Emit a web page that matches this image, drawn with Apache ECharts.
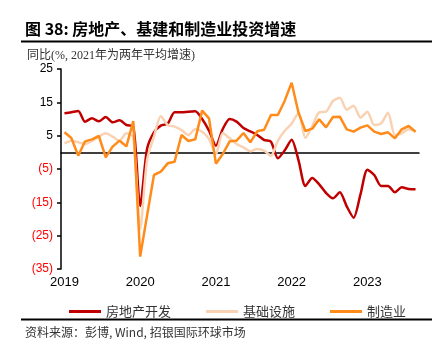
<!DOCTYPE html>
<html>
<head>
<meta charset="utf-8">
<script src="https://cdn.jsdelivr.net/npm/echarts@6/dist/echarts.min.js"></script>
<style>
  html, body { margin: 0; padding: 0; background: #fff; }
  #main { width: 437px; height: 354px; }
</style>
</head>
<body>
<div id="main"></div>
<script>
  // 月度数据: 每年 1-2 月合并, 共 11 个点; 2023 年到 9 月
  var categories = [
    '2019-02','2019-03','2019-04','2019-05','2019-06','2019-07','2019-08','2019-09','2019-10','2019-11','2019-12',
    '2020-02','2020-03','2020-04','2020-05','2020-06','2020-07','2020-08','2020-09','2020-10','2020-11','2020-12',
    '2021-02','2021-03','2021-04','2021-05','2021-06','2021-07','2021-08','2021-09','2021-10','2021-11','2021-12',
    '2022-02','2022-03','2022-04','2022-05','2022-06','2022-07','2022-08','2022-09','2022-10','2022-11','2022-12',
    '2023-02','2023-03','2023-04','2023-05','2023-06','2023-07','2023-08','2023-09'
  ]
  var realEstate = [
    11.7, 12.0, 12.4, 9.2, 10.2, 9.3, 10.6, 9.0, 9.6, 8.2, 7.8,
    -16.1, 1.0, 6.0, 8.0, 8.6, 12.0, 12.0, 12.2, 12.3, 10.0, 6.5,
    2.0, 7.0, 10.0, 9.2, 7.3, 6.3, 5.2, 3.7, 3.2, -1.8, 0.6,
    3.8, -2.4, -10.1, -7.7, -9.6, -12.2, -13.8, -12.0, -16.2, -19.6, -12.6,
    -5.2, -6.8, -10.1, -10.1, -12.0, -10.5, -11.0, -11.1
  ]
  var infrastructure = [
    2.7, 3.5, 3.0, 2.5, 3.4, 4.7, 5.7, 4.7, 3.5, 5.7, 4.5,
    -23.0, -2.3, 4.7, 10.8, 8.2, 7.7, 6.7, 5.2, 6.9, 6.2, 4.0,
    -0.5, 5.8, 4.2, 2.5, 1.5, 0.3, 1.0, 0.5, -1.0, 3.5, 6.5,
    8.6, 11.8, 4.3, 7.9, 12.0, 12.2, 15.4, 16.4, 12.8, 14.0, 10.4,
    12.2, 8.2, 8.7, 11.9, 5.2, 5.7, 6.9, 6.2
  ]
  var manufacturing = [
    6.0, 4.3, -1.0, 3.3, 3.9, 4.9, -1.5, 1.7, 3.5, 1.8, 9.4,
    -31.3, -19.0, -6.8, -5.8, -3.3, -2.8, 5.2, 3.4, 3.9, 12.5, 10.2,
    -3.4, -0.5, 3.3, 3.5, 5.8, 3.0, 6.3, 6.8, 11.2, 11.2, 15.5,
    20.9, 11.9, 6.4, 7.1, 9.9, 7.5, 10.6, 10.7, 6.9, 6.2, 7.4,
    8.1, 6.2, 5.5, 6.0, 4.2, 6.9, 7.9, 6.2
  ]
  var yTicks = [-35, -25, -15, -5, 5, 15, 25]

  var cjk = '"Noto Sans CJK SC", sans-serif'
  var latin = '"Liberation Sans", Arial, sans-serif'

  var chart = echarts.init(document.getElementById('main'))
  var option = {
    animation: false,
    grid: { left: 61, right: 18, top: 69, bottom: 85, containLabel: false },
    graphic: [
      { type: 'text', left: 25, top: 21, style: { text: '图 38: 房地产、基建和制造业投资增速', font: 'bold 16px ' + cjk, fill: '#000' } },
      { type: 'rect', shape: { x: 21, y: 40.5, width: 411, height: 2 }, style: { fill: '#000' } },
      { type: 'text', left: 27, top: 50, style: { text: '同比(%, 2021年为两年平均增速)', font: '12px "Liberation Serif", "Noto Sans CJK SC", serif', fill: '#333' } },
      { type: 'rect', shape: { x: 21, y: 318.5, width: 411, height: 2 }, style: { fill: '#000' } },
      { type: 'text', left: 25, top: 326, style: { text: '资料来源：彭博, Wind, 招银国际环球市场', font: '12px ' + cjk, fill: '#333' } }
    ],
    legend: {
      left: 64,
      top: 300,
      itemGap: 35,
      itemWidth: 32,
      itemHeight: 3,
      icon: 'rect',
      textStyle: { fontSize: 13, color: '#333', fontFamily: cjk },
      data: ['房地产开发', '基础设施', '制造业']
    },
    xAxis: [
      {
        type: 'category',
        data: categories,
        position: 'bottom',
        boundaryGap: true,
        axisLine: { show: false, onZero: false },
        axisTick: { show: false },
        axisLabel: {
          interval: 10,
          margin: 7,
          fontSize: 13,
          color: '#000',
          fontFamily: latin,
          formatter: function (v) { return v.slice(0, 4) }
        }
      },
      {
        type: 'category',
        data: categories,
        position: 'bottom',
        boundaryGap: true,
        axisLine: { onZero: true, lineStyle: { color: '#000', width: 1.5 } },
        axisTick: { interval: 10, length: 3, lineStyle: { color: '#000', width: 1.5 } },
        axisLabel: { show: false }
      }
    ],
    yAxis: {
      type: 'value',
      min: -35,
      max: 25,
      splitLine: { show: false },
      axisLine: { show: true, lineStyle: { color: '#000', width: 1.5 } },
      axisTick: { show: true, length: 4, customValues: yTicks, lineStyle: { color: '#000', width: 1.5 } },
      axisLabel: {
        customValues: yTicks,
        margin: 8,
        fontSize: 12,
        fontFamily: latin,
        color: '#000',
        formatter: function (v) {
          return v < 0 ? '{neg|(' + (-v) + ')}' : String(v)
        },
        rich: { neg: { color: '#FF0000', fontSize: 12, fontFamily: latin } }
      }
    },
    series: [
      {
        name: '房地产开发',
        type: 'line',
        data: realEstate,
        showSymbol: false,
        smooth: 0.25,
        color: '#C00000',
        lineStyle: { width: 2.5, color: '#C00000' }
      },
      {
        name: '基础设施',
        type: 'line',
        data: infrastructure,
        showSymbol: false,
        smooth: 0.25,
        color: '#F9D2B3',
        lineStyle: { width: 2.5, color: '#F9D2B3' }
      },
      {
        name: '制造业',
        type: 'line',
        data: manufacturing,
        showSymbol: false,
        color: '#FF8C1A',
        lineStyle: { width: 2.5, color: '#FF8C1A' }
      }
    ]
  }
  chart.setOption(option)
</script>
</body>
</html>
